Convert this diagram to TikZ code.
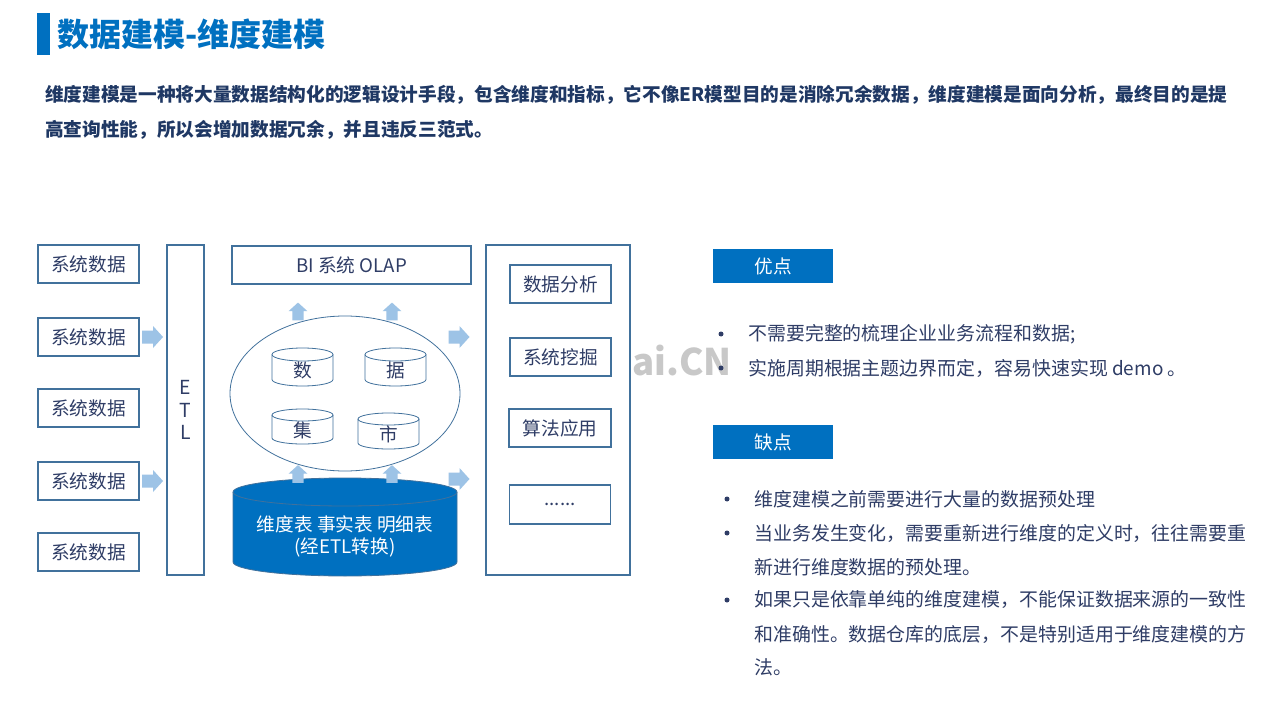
\documentclass[tikz,border=0pt]{standalone}
\usepackage{fontspec}
\setmainfont{Noto Sans CJK SC}
\usetikzlibrary{shapes.geometric,calc}

\definecolor{titleblue}{HTML}{0070C0}
\definecolor{navy}{HTML}{1F3864}
\definecolor{boxtext}{HTML}{2F3D66}
\definecolor{edgeblue}{HTML}{41719C}
\definecolor{arrowblue}{HTML}{9DC3E6}
\definecolor{wmgray}{HTML}{C8C8C8}

\newcommand{\px}{0.75pt}

\tikzset{
  outline/.style={draw=edgeblue, line width=0.8pt, inner sep=0pt, text=boxtext, font=\fontsize{14}{16}\selectfont},
  srcbox/.style={outline, minimum width=101*\px, minimum height=38*\px},
  appbox/.style={outline, minimum width=101*\px, minimum height=38*\px},
  tagbox/.style={fill=titleblue, text=white, inner sep=0pt, minimum width=120*\px, minimum height=34*\px, font=\fontsize{14}{16}\selectfont},
  bodytext/.style={anchor=west, inner sep=0pt, text=boxtext, font=\fontsize{14.2}{16}\selectfont},
  bulletdot/.style={circle, fill=boxtext, inner sep=0pt, minimum size=5*\px},
  fatarrow/.pic={\fill[arrowblue] (-10.5,-6.5) -- (0.5,-6.5) -- (0.5,-11) -- (10.5,0) -- (0.5,11) -- (0.5,6.5) -- (-10.5,6.5) -- cycle;}
}

\begin{document}
\begin{tikzpicture}[x=0.75pt, y=-0.75pt]
	\newcommand{\drum}[6]{ % #1: style, #2: x radius, #3: y radius, #4: x-coordinate, #5: top, #6: body height
		\path[#1] (#4-#2,#5+#3) -- (#4-#2,#5+#3+#6) arc [start angle=180, end angle=0, x radius=#2, y radius=#3] -- (#4+#2,#5+#3) arc [start angle=0, end angle=-180, x radius=#2, y radius=#3] -- cycle;
		\draw[#1, fill=none] (#4-#2,#5+#3) arc [start angle=180, end angle=0, x radius=#2, y radius=#3];
	}
	
	\fill[white] (0,0) rectangle (1280,720);
	\useasboundingbox (0,0) rectangle (1280,720);
	
	%title
	\fill[titleblue] (37,13) rectangle (50,55);
	\node[anchor=west, inner sep=0pt, text=titleblue, font=\fontsize{24}{28}\selectfont\bfseries] (title) at (57,34) {数据建模-维度建模};
	\node[anchor=west, inner sep=0pt, align=left, text=navy, font=\fontsize{14}{26.25}\selectfont\bfseries] (intro) at (45,112.5) {维度建模是一种将大量数据结构化的逻辑设计手段，包含维度和指标，它不像ER模型目的是消除冗余数据，维度建模是面向分析，最终目的是提\\高查询性能，所以会增加数据冗余，并且违反三范式。};
	
	%source systems
	\node[srcbox] (src1) at (88.5,264) {系统数据};
	\node[srcbox] (src2) at (88.5,337) {系统数据};
	\node[srcbox] (src3) at (88.5,408) {系统数据};
	\node[srcbox] (src4) at (88.5,481) {系统数据};
	\node[srcbox] (src5) at (88.5,552) {系统数据};
	\pic at ($(src2.east)+(13,0)$) {fatarrow};
	\pic at ($(src4.east)+(13,0)$) {fatarrow};
	
	\node[outline, minimum width=37*\px, minimum height=330*\px] (etl) at (185.5,410) {};
	\node[text=boxtext, align=center, inner sep=0pt, font=\fontsize{14.5}{16.9}\selectfont] (etltext) at (etl) {E\\T\\L};
	
	%data mart
	\node[outline, minimum width=239*\px, minimum height=38*\px] (bi) at (351.5,265) {BI 系统 OLAP};
	\node[ellipse, draw=edgeblue, line width=0.6pt, minimum width=230*\px, minimum height=155*\px] (mart) at (345,393.5) {};
	\drum{draw=edgeblue, fill=white, line width=0.6pt}{30.5}{6.5}{302.5}{348}{25}
	\drum{draw=edgeblue, fill=white, line width=0.6pt}{30.5}{6.5}{395.5}{348}{25}
	\drum{draw=edgeblue, fill=white, line width=0.6pt}{30.5}{6}{302.5}{409}{23}
	\drum{draw=edgeblue, fill=white, line width=0.6pt}{30.5}{6}{388.5}{413}{24}
	\node[text=boxtext, font=\fontsize{14}{16}\selectfont] (shu) at (302.5,370) {数};
	\node[text=boxtext, font=\fontsize{14}{16}\selectfont] (ju) at (395.5,370) {据};
	\node[text=boxtext, font=\fontsize{14}{16}\selectfont] (ji) at (302.5,430) {集};
	\node[text=boxtext, font=\fontsize{14}{16}\selectfont] (shi) at (388.5,434) {市};
	\drum{draw=edgeblue, fill=titleblue, line width=0.6pt}{112}{14}{345}{478}{70}
	\node[text=white, align=center, font=\fontsize{14}{16.5}\selectfont] (facts) at (345,536) {维度表 事实表 明细表\\(经ETL转换)};
	
	%fat arrows
	\pic[rotate=90, scale=0.85] at (298,311.5) {fatarrow};
	\pic[rotate=90, scale=0.85] at (392,311.5) {fatarrow};
	\pic[rotate=90, scale=0.85] at (298,474) {fatarrow};
	\pic[rotate=90, scale=0.85] at (392,474) {fatarrow};
	\pic at (459,337) {fatarrow};
	\pic at (459,479) {fatarrow};
	
	%applications
	\node[anchor=base west, inner sep=0pt, text=wmgray, font=\fontsize{27.5}{32}\selectfont\bfseries] (watermark) at (632,375) {ai.CN};
	\node[outline, fill=white, minimum width=144*\px, minimum height=330*\px] (apps) at (558,410) {};
	\node[appbox] (app1) at (560.5,284) {数据分析};
	\node[appbox] (app2) at (560.5,357) {系统挖掘};
	\node[appbox, minimum width=102*\px] (app3) at (560,428) {算法应用};
	\node[appbox, minimum height=39*\px] (app4) at (560,504.5) {......};
	
	%pros
	\node[tagbox] (pros) at (773,266) {优点};
	\node[bulletdot] (pdot1) at (721,334) {};
	\node[bodytext] (pro1) at (748,334) {不需要完整的梳理企业业务流程和数据;};
	\node[bulletdot] (pdot2) at (721,368) {};
	\node[bodytext] (pro2) at (748,368) {实施周期根据主题边界而定，容易快速实现 demo 。};
	
	%cons
	\node[tagbox] (cons) at (773,442) {缺点};
	\node[bulletdot] (cdot1) at (727,499) {};
	\node[bodytext] (con1) at (754,499) {维度建模之前需要进行大量的数据预处理};
	\node[bulletdot] (cdot2) at (727,533) {};
	\node[bodytext] (con2) at (754,533) {当业务发生变化，需要重新进行维度的定义时，往往需要重};
	\node[bodytext] (con3) at (754,567) {新进行维度数据的预处理。};
	\node[bulletdot] (cdot3) at (727,600) {};
	\node[bodytext] (con4) at (754,600) {如果只是依靠单纯的维度建模，不能保证数据来源的一致性};
	\node[bodytext] (con5) at (754,634) {和准确性。数据仓库的底层，不是特别适用于维度建模的方};
	\node[bodytext] (con6) at (754,667) {法。};
\end{tikzpicture}
\end{document}
